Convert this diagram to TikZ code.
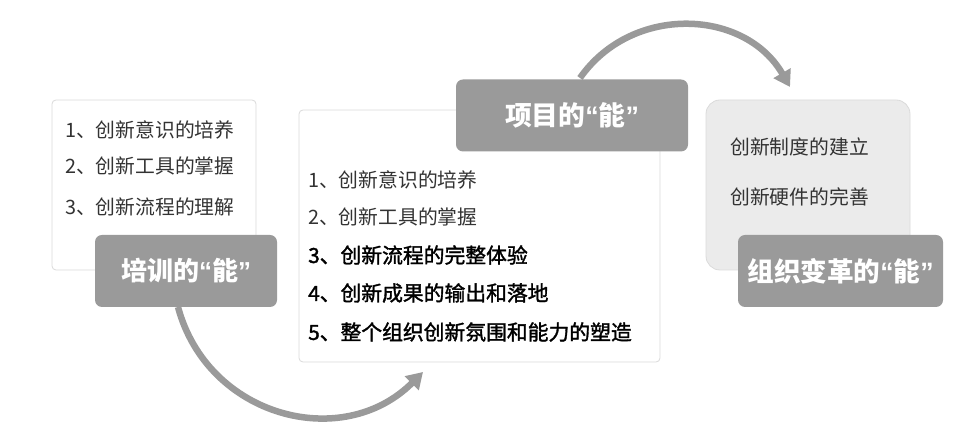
\documentclass[tikz,border=0pt]{standalone}
\usepackage{fontspec}
\setmainfont{Noto Sans CJK SC}
\newfontfamily\quoteFont{Liberation Sans}
\newfontfamily\mediumFont[FakeBold=1.6]{Noto Sans CJK SC}
\usepackage{tikz}
\usetikzlibrary{arrows.meta}
\definecolor{boxColor}{HTML}{9A9A9A}
\definecolor{panelColor}{HTML}{EBEBEB}
\definecolor{edgeColor}{HTML}{DADADA}
\definecolor{itemColor}{HTML}{333333}
\newcommand{\neng}{{\quoteFont\bfseries “}能{\quoteFont\bfseries ”}}

\begin{document}
\begin{tikzpicture}[x=1pt,y=1pt]

          \tikzstyle{whitePanel} = [draw=edgeColor, fill=white, line width=0.8pt, rounded corners=4pt];
          \tikzstyle{grayPanel} = [draw=edgeColor, fill=panelColor, line width=0.8pt, rounded corners=14pt];
          \tikzstyle{labelBox} = [fill=boxColor, rounded corners=7pt, text=white, font=\fontsize{26}{30}\selectfont\bfseries, minimum height=72pt, inner sep=0pt];
          \tikzstyle{itemText} = [anchor=west, inner sep=0pt, text=itemColor, font=\fontsize{19.8}{24}\selectfont];
          \tikzstyle{boldItem} = [anchor=west, inner sep=0pt, text=black, font=\fontsize{20.8}{24}\mediumFont];
          \tikzstyle{flowEdge} = [line width=6.5pt, boxColor, -{Triangle[length=16pt,width=19pt]}];

          \useasboundingbox (0,0) rectangle (960,430);

          % panels
          \draw[whitePanel] (52,160) rectangle (256,330);
          \draw[whitePanel] (299,68) rectangle (660,320);
          \draw[grayPanel] (706,160) rectangle (910,330);

          % texts of the panels
          \node[itemText] (t1) at (65,300) {1、创新意识的培养};
          \node[itemText] (t2) at (65,264) {2、创新工具的掌握};
          \node[itemText] (t3) at (65,223) {3、创新流程的理解};

          \node[itemText] (p1) at (308,250) {1、创新意识的培养};
          \node[itemText] (p2) at (308,213) {2、创新工具的掌握};
          \node[boldItem] (p3) at (308,175) {3、创新流程的完整体验};
          \node[boldItem] (p4) at (308,137) {4、创新成果的输出和落地};
          \node[boldItem] (p5) at (308,98) {5、整个组织创新氛围和能力的塑造};

          \node[itemText] (o1) at (730,283) {创新制度的建立};
          \node[itemText] (o2) at (730,233) {创新硬件的完善};

          % labels
          \node[labelBox, minimum width=182pt] (train) at (186,159) {培训的\neng};
          \node[labelBox, minimum width=232pt, font=\fontsize{26.8}{30}\selectfont\bfseries] (project) at (572,314.5) {项目的\neng};
          \node[labelBox, minimum width=205pt, font=\fontsize{26.6}{30}\selectfont\bfseries] (org) at (840.5,159) {组织变革的\neng};

          % arrows
          \coordinate (trainOut) at (178,123);
          \coordinate (projectIn) at (423,58);
          \coordinate (projectOut) at (580,352);
          \coordinate (orgIn) at (790,343);

          \draw[flowEdge] (trainOut) to[out=-75, in=225, looseness=1.15] (projectIn);
          \draw[flowEdge] (projectOut) to[out=55, in=120, looseness=1.1] (orgIn);
        \end{tikzpicture}
\end{document}
